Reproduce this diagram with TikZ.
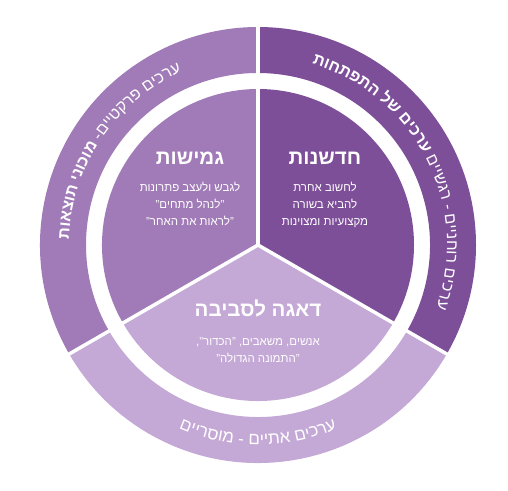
\documentclass[tikz,border=0pt]{standalone}
\usepackage{fontspec}
\setmainfont{Liberation Sans}[Script=Hebrew]
\usetikzlibrary{decorations.text}
\TeXXeTstate=1
\newcommand{\heb}[1]{\beginR #1\endR}
\newcommand{\ringfont}{\fontsize{16}{18}\selectfont}
\newcommand{\ringbold}{\fontsize{16}{18}\selectfont\bfseries}
\newcommand{\ringlarge}{\fontsize{17}{19}\selectfont}
\definecolor{innovpurple}{RGB}{125,79,153}
\definecolor{flexpurple}{RGB}{161,123,183}
\definecolor{carelilac}{RGB}{196,168,214}
\tikzset{
  gapline/.style={white, line width=3.5pt},
  title/.style={font=\fontsize{20.5}{22}\selectfont\bfseries, text=white,
                inner sep=0pt},
  body/.style={font=\fontsize{11.5}{17}\selectfont, text=white,
               align=center, inner sep=0pt},
  ringcaption/.style={decorate, decoration={text along path,
                      text align=center, text color=white}},
}
\begin{document}
\begin{tikzpicture}[x=1pt,y=1pt]
  \useasboundingbox (0,0) rectangle (508,490);
  \coordinate (C) at (258,245);

  % Outer ring, three bands.
  \foreach \from/\to/\col in {90/-30/innovpurple, -30/-150/carelilac, 210/90/flexpurple}{
    \fill[\col] ([shift={(C)}]\from:218) arc[start angle=\from, end angle=\to, radius=218]
      -- ([shift={(C)}]\to:172) arc[start angle=\to, end angle=\from, radius=172] -- cycle;
  }

  % Inner pie.
  \foreach \from/\to/\col in {90/-30/innovpurple, -30/-150/carelilac, 210/90/flexpurple}{
    \fill[\col] (C) -- ([shift={(C)}]\from:156) arc[start angle=\from, end angle=\to, radius=156] -- cycle;
  }

  % White dividers.
  \foreach \a in {90,210,330}{
    \draw[gapline] (C) -- ([shift={(C)}]\a:222);
  }

  % Sector texts.
  \node[title] (flextitle) at (190,332) {\heb{גמישות}};
  \node[body, anchor=north] (flexbody) at (190,308)
    {\heb{לגבש ולעצב פתרונות}\\\heb{"לנהל מתחים"}\\\heb{"לראות את האחר"}};

  \node[title] (innovtitle) at (325,332) {\heb{חדשנות}};
  \node[body, anchor=north] (innovbody) at (325,308)
    {\heb{לחשוב אחרת}\\\heb{להביא בשורה}\\\heb{מקצועיות ומצוינות}};

  \node[title] (caretitle) at (258,182) {\heb{דאגה לסביבה}};
  \node[body, anchor=north] (carebody) at (258,153)
    {\heb{אנשים, משאבים, "הכדור",}\\\heb{"התמונה הגדולה"}};

  % Ring captions, written in visual order (set glyph by glyph).
  \path[ringcaption, decoration={text={|\ringbold|תוחתפתה לש םיכרע|\ringfont| םיישגר - םיינחור םיכרע}}]
    ([shift={(C)}]117:189) arc[start angle=117, end angle=-63, radius=189];
  \path[ringcaption, decoration={text={|\ringbold|תואצות ינוכומ|\ringfont| -םייטקרפ םיכרע}}]
    ([shift={(C)}]236:189) arc[start angle=236, end angle=56, radius=189];
  \path[ringcaption, decoration={text={|\ringlarge|םיירסומ - םייתא םיכרע}}]
    ([shift={(C)}]-180:200) arc[start angle=-180, end angle=0, radius=200];
\end{tikzpicture}
\end{document}
